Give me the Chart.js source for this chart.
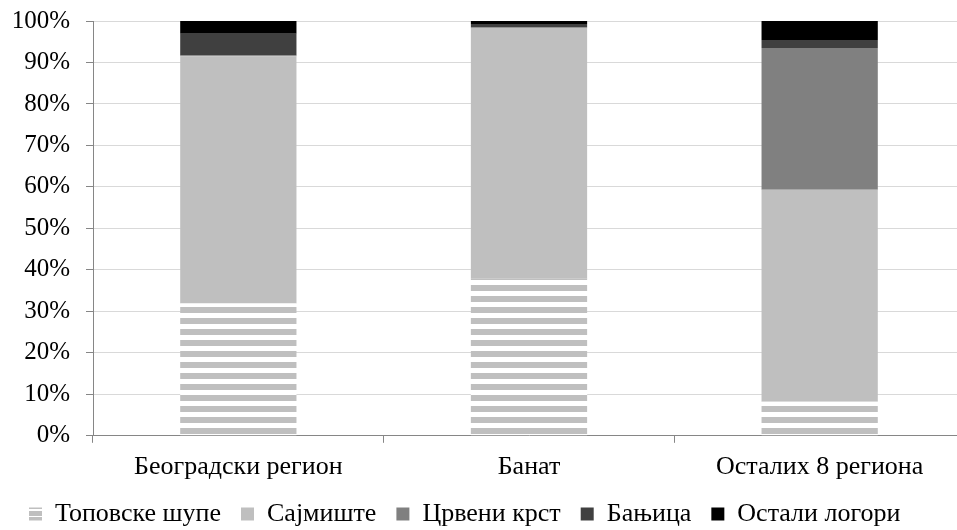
<!DOCTYPE html>
<html>
<head>
<meta charset="utf-8">
<script src="https://cdn.jsdelivr.net/npm/chart.js@4"></script>
<style>
  html, body { margin: 0; padding: 0; background: #fff; overflow: hidden; }
  #wrap { width: 966px; height: 530px; }
</style>
</head>
<body>
<div id="wrap"><canvas id="camps" width="966" height="530"></canvas></div>
<script>
var regions = ['Београдски регион', 'Банат', 'Осталих 8 региона'];
var topovske = [31.9, 38.0, 8.2];
var sajmiste = [59.6, 60.2, 51.1];
var crveniKrst = [0.2, 0.3, 34.2];
var banjica = [5.2, 0.8, 1.9];
var ostali = [3.1, 0.7, 4.6];
var yTicks = [0, 10, 20, 30, 40, 50, 60, 70, 80, 90, 100];

function stripePattern(h, grayRows) {
    var pc = document.createElement('canvas');
    pc.width = 4; pc.height = h;
    var pctx = pc.getContext('2d');
    pctx.fillStyle = '#fff';
    pctx.fillRect(0, 0, 4, h);
    pctx.fillStyle = '#bfbfbf';
    grayRows.forEach(function (r) { pctx.fillRect(0, r, 4, 1); });
    return pctx.createPattern(pc, 'repeat');
}

// horizontal stripes for Топовске шупе (bars and legend icon)
var stripes = stripePattern(11, [10, 0, 1, 2, 3, 4]);
var legendStripes = stripePattern(13, [0, 1, 2, 3, 4, 7, 8, 9, 10, 11]);

var serif = '"Liberation Serif", "Times New Roman", serif';

// pull the legend a bit closer to the axis labels, line up the icon stripes
var legendNudge = {
    id: 'legendNudge',
    afterLayout: function (chart) {
        chart.legend.top -= 11;
        chart.legend.bottom -= 11;
    },
    beforeDraw: function (chart) {
        var t = Math.round(chart.legend.top + 36);
        legendStripes.setTransform(new DOMMatrix([1, 0, 0, 1, 0, t]));
    }
};

var campsChart = new Chart(document.getElementById('camps'), {
type: 'bar',
data: {
    labels: regions,
    datasets: [
        { label: 'Топовске шупе', data: topovske, backgroundColor: stripes },
        { label: 'Сајмиште', data: sajmiste, backgroundColor: '#bfbfbf' },
        { label: 'Црвени крст', data: crveniKrst, backgroundColor: '#808080' },
        { label: 'Бањица', data: banjica, backgroundColor: '#404040' },
        { label: 'Остали логори', data: ostali, backgroundColor: '#000000' }
    ]
},
plugins: [legendNudge],
options: {
    responsive: false,
    animation: false,
    layout: { padding: { top: 21, right: 1, left: 9, bottom: -18 } },
    datasets: {
        bar: { barPercentage: 0.4, categoryPercentage: 1, borderWidth: 0 }
    },
    scales: {
        x: {
            stacked: true,
            grid: { drawOnChartArea: false, drawTicks: true, tickLength: 7, color: '#868686', offset: true },
            border: { color: '#868686', width: 1 },
            ticks: { color: '#000', font: { family: serif, size: 26 }, padding: 9 }
        },
        y: {
            stacked: true,
            min: 0,
            max: 100,
            afterFit: function (s) {
                s.width = 84;
                s.paddingTop = 0;
                s.paddingBottom = 0;
            },
            afterBuildTicks: function (s) { s.ticks = yTicks.map(function (v) { return { value: v }; }); },
            grid: { color: '#d9d9d9', tickColor: '#868686', tickLength: 7 },
            border: { color: '#868686', width: 1 },
            ticks: {
                color: '#000',
                font: { family: serif, size: 25 },
                padding: 16,
                callback: function (v) { return v + '%'; }
            }
        }
    },
    plugins: {
        legend: {
            display: true,
            position: 'bottom',
            align: 'start',
            labels: {
                color: '#000',
                font: { family: serif, size: 26 },
                boxWidth: 13,
                boxHeight: 13,
                padding: 20,
                generateLabels: function (chart) {
                    var items = Chart.defaults.plugins.legend.labels.generateLabels(chart);
                    items.forEach(function (it) { it.lineWidth = 0; });
                    items[0].fillStyle = legendStripes;
                    return items;
                }
            }
        },
        tooltip: { enabled: false }
    }
}
});
</script>
</body>
</html>
